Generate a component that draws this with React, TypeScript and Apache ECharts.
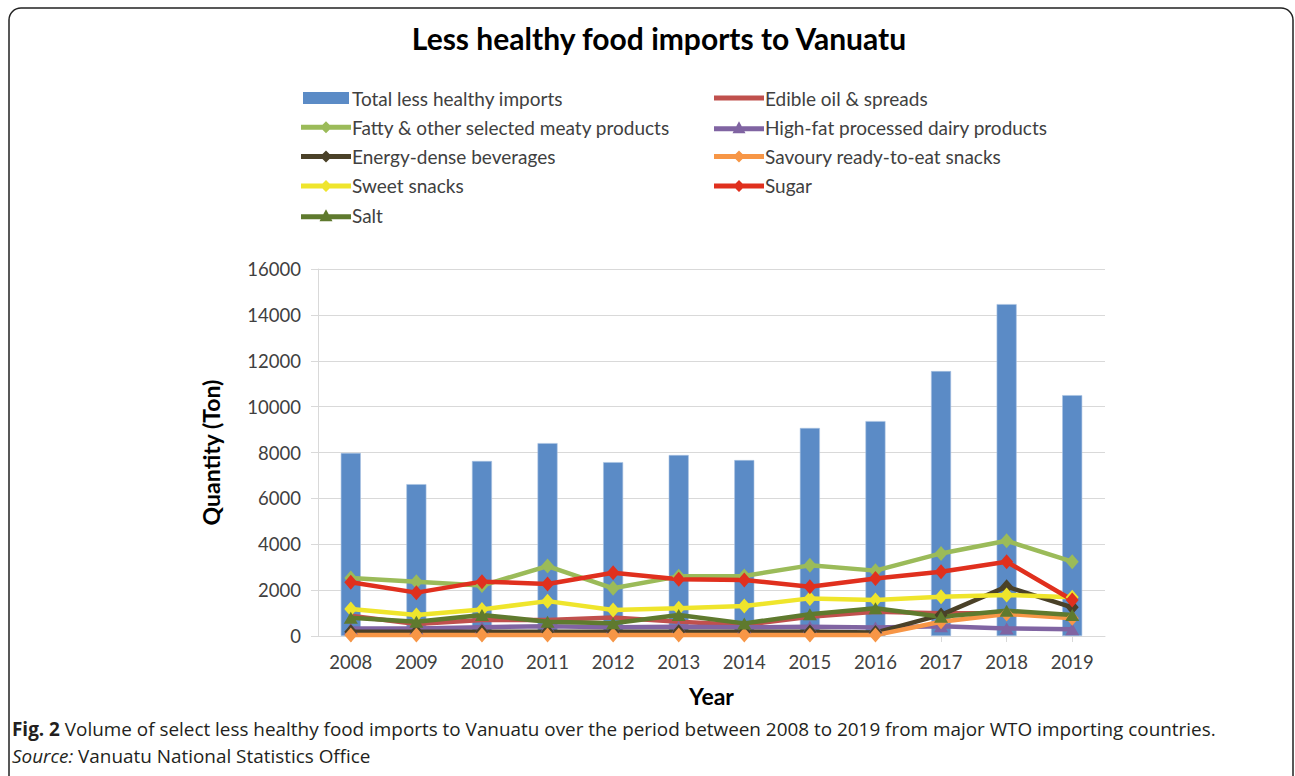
import React, { useEffect, useRef } from "react";
import * as echarts from "echarts";

const years = ["2008", "2009", "2010", "2011", "2012", "2013", "2014", "2015", "2016", "2017", "2018", "2019"];
const totalImports = [7980, 6620, 7630, 8410, 7580, 7890, 7670, 9070, 9370, 11550, 14470, 10500];
const edibleOil = [880, 520, 700, 700, 810, 620, 480, 840, 1060, 990, 990, 840];
const fattyMeat = [2530, 2370, 2200, 3050, 2080, 2600, 2620, 3080, 2850, 3600, 4150, 3240];
const dairy = [330, 330, 380, 430, 380, 400, 380, 400, 370, 430, 330, 290];
const energyDrinks = [180, 180, 180, 180, 180, 180, 180, 180, 150, 920, 2150, 1250];
const savourySnacks = [40, 40, 40, 40, 40, 40, 40, 40, 40, 620, 960, 770];
const sweetSnacks = [1180, 920, 1160, 1520, 1130, 1210, 1310, 1640, 1570, 1710, 1790, 1690];
const sugar = [2340, 1890, 2370, 2270, 2760, 2470, 2440, 2150, 2510, 2800, 3240, 1570];
const salt = [800, 620, 920, 620, 560, 920, 550, 950, 1210, 840, 1100, 920];

const yMin = 0;
const yMax = 16000;
const yInterval = 2000;

const FONT = "Lato, 'Noto Sans', sans-serif";
const CAP_FONT = "'Open Sans', 'Noto Sans', sans-serif";

const ICON_BAR = "path://M0,0h46v12h-46z";
const ICON_LINE = "path://M0,0h50v5h-50z";
const ICON_DIAMOND = "path://M0,3.5h50v5h-50z M25,0L31,6L25,12L19,6Z";
const ICON_TRIANGLE = "path://M0,5h50v5h-50z M25,0L31.5,12L18.5,12Z";

function lineSeries(name: string, data: number[], color: string, symbol: string, size: any) {
  return {
    name,
    type: "line",
    data,
    symbol,
    symbolSize: size,
    showSymbol: symbol !== "none",
    lineStyle: { color, width: 4.5 },
    itemStyle: { color },
    z: 3,
  };
}

export default function App() {
  const ref = useRef<HTMLDivElement>(null);
  useEffect(() => {
    if (!ref.current) return;
    const chart = echarts.init(ref.current, null, { renderer: "svg" });
    const legendCommon = {
      orient: "vertical",
      top: 87,
      padding: 0,
      itemWidth: 50,
      itemHeight: 12,
      itemGap: 7.3,
      selectedMode: false,
      itemStyle: { borderWidth: 0 },
      textStyle: { fontFamily: FONT, fontSize: 19, color: "#404040", lineHeight: 22, padding: [0, 0, 0, -4] },
    };
    chart.setOption({
      animation: false,
      backgroundColor: "#ffffff",
      title: {
        text: "Less healthy food imports to Vanuatu",
        left: 654,
        textAlign: "center",
        top: 18,
        textStyle: { fontFamily: FONT, fontSize: 30, fontWeight: "bold", color: "#000" },
      },
      legend: [
        {
          ...legendCommon,
          left: 301,
          data: [
            { name: "Total less healthy imports", icon: ICON_BAR },
            { name: "Fatty & other selected meaty products", icon: ICON_DIAMOND },
            { name: "Energy-dense beverages", icon: ICON_DIAMOND },
            { name: "Sweet snacks", icon: ICON_DIAMOND },
            { name: "Salt", icon: ICON_TRIANGLE },
          ],
        },
        {
          ...legendCommon,
          left: 714,
          data: [
            { name: "Edible oil & spreads", icon: ICON_LINE },
            { name: "High-fat processed dairy products", icon: ICON_TRIANGLE },
            { name: "Savoury ready-to-eat snacks", icon: ICON_DIAMOND },
            { name: "Sugar", icon: ICON_DIAMOND },
          ],
        },
      ],
      grid: { left: 318, right: 190, top: 269, bottom: 140, containLabel: false },
      xAxis: {
        type: "category",
        data: years,
        boundaryGap: true,
        name: "Year",
        nameLocation: "middle",
        nameGap: 48,
        nameTextStyle: { fontFamily: FONT, fontSize: 23, fontWeight: "bold", color: "#000" },
        axisLine: { show: true, lineStyle: { color: "#d9d9d9", width: 1 } },
        axisTick: { show: true, alignWithLabel: true, length: 6, lineStyle: { color: "#d9d9d9" } },
        axisLabel: { fontFamily: FONT, fontSize: 18.5, color: "#404040", margin: 16 },
      },
      yAxis: {
        type: "value",
        min: yMin,
        max: yMax,
        interval: yInterval,
        name: "Quantity (Ton)",
        nameLocation: "middle",
        nameGap: 96,
        nameTextStyle: { fontFamily: FONT, fontSize: 23, fontWeight: "bold", color: "#000" },
        axisLine: { show: true, lineStyle: { color: "#d9d9d9", width: 1 } },
        axisTick: { show: true, length: 7, lineStyle: { color: "#d9d9d9" } },
        axisLabel: {
          fontFamily: FONT,
          fontSize: 18.5,
          color: "#404040",
          margin: 17,
          formatter: (v: number) => String(v),
        },
        splitLine: { show: true, lineStyle: { color: "#d9d9d9", width: 1.2 } },
      },
      series: [
        {
          name: "Total less healthy imports",
          type: "bar",
          data: totalImports,
          barWidth: 20,
          itemStyle: { color: "#5b8bc6", borderColor: "#a9c3e3", borderWidth: 0.6 },
          z: 2,
        },
        lineSeries("Edible oil & spreads", edibleOil, "#c0504d", "none", 0),
        lineSeries("Fatty & other selected meaty products", fattyMeat, "#9bbb59", "diamond", [13, 15]),
        lineSeries("High-fat processed dairy products", dairy, "#8064a2", "triangle", [14, 12]),
        lineSeries("Energy-dense beverages", energyDrinks, "#4a4128", "diamond", [13, 15]),
        lineSeries("Savoury ready-to-eat snacks", savourySnacks, "#f79646", "diamond", [13, 15]),
        lineSeries("Sweet snacks", sweetSnacks, "#efe52c", "diamond", [13, 15]),
        lineSeries("Sugar", sugar, "#e0301e", "diamond", [13, 15]),
        lineSeries("Salt", salt, "#5f7a2e", "triangle", [14, 12]),
      ],
      graphic: [
        {
          type: "rect",
          shape: { x: 9, y: 8, width: 1284, height: 800, r: 12 },
          style: { fill: "none", stroke: "#222", lineWidth: 1.5 },
          silent: true,
          z: -1,
        },
        {
          type: "text",
          x: 12,
          y: 729,
          style: {
            text:
              "{b|Fig. 2} Volume of select less healthy food imports to Vanuatu over the period between 2008 to 2019 from major WTO importing countries.",
            fontFamily: CAP_FONT,
            fontSize: 18.9,
            fill: "#231f20",
            verticalAlign: "middle",
            rich: { b: { fontWeight: "bold", fontFamily: CAP_FONT, fontSize: 18.9, fill: "#231f20" } },
          },
        },
        {
          type: "text",
          x: 12,
          y: 756,
          style: {
            text: "{i|Source:} Vanuatu National Statistics Office",
            fontFamily: CAP_FONT,
            fontSize: 18.9,
            fill: "#231f20",
            verticalAlign: "middle",
            rich: { i: { fontStyle: "italic", fontFamily: CAP_FONT, fontSize: 18.9, fill: "#231f20" } },
          },
        },
      ],
    });
    return () => chart.dispose();
  }, []);
  return (
    <div
      ref={ref}
      style={{ position: "fixed", left: 0, top: 0, width: 1295, height: 776, background: "#fff" }}
    />
  );
}
